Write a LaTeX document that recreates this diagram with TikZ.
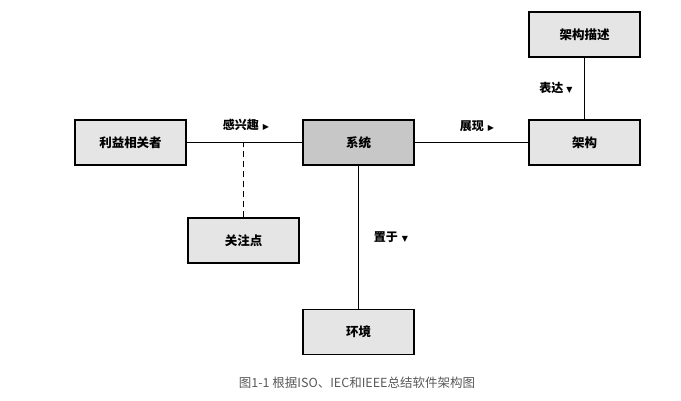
\documentclass[tikz,border=0pt]{standalone}
\usepackage{fontspec}
\setmainfont{Noto Sans CJK SC}
\newfontfamily\symfont{DejaVu Sans}
\usetikzlibrary{positioning}

\begin{document}
\begin{tikzpicture}[x=1pt, y=-1pt,
    box/.style={draw, line width=1.3pt, fill=black!10, minimum width=111pt,
      minimum height=45pt, inner sep=0pt, font=\fontsize{12.5}{14}\selectfont\bfseries},
    link/.style={line width=1.3pt},
    lbl/.style={inner sep=1pt, font=\fontsize{12}{14}\selectfont\bfseries}]
  \useasboundingbox[fill=white] (0,0) rectangle (681,400);

  \node[box] (stake) at (130.5,142.5) {利益相关者};
  \node[box, fill=black!22] (sys) at (358.5,142.5) {系统};
  \node[box] (concern) at (243.5,240.5) {关注点};
  \node[box] (env) at (358.5,332) {环境};
  \node[box] (arch) at (584.5,142.5) {架构};
  \node[box] (desc) at (584.5,34.5) {架构描述};

  \draw[link] (stake) -- (sys);
  \draw[link] (sys) -- (arch);
  \draw[link] (sys) -- (env);
  \draw[link] (desc) -- (arch);
  \draw[link, dash pattern=on 6pt off 4pt] (concern.north) -- (concern.north |- stake.east);

  \node[lbl] (interest) at (246,125) {感兴趣\hspace{4pt}{\symfont\fontsize{8}{10}\selectfont ▶}};
  \node[lbl] (exhibit) at (477,126) {展现\hspace{4pt}{\symfont\fontsize{8}{10}\selectfont ▶}};
  \node[lbl] (express) at (556,88) {表达\hspace{3pt}{\symfont\fontsize{8}{10}\selectfont ▼}};
  \node[lbl] (situate) at (391,237) {置于\hspace{4pt}{\symfont\fontsize{8}{10}\selectfont ▼}};

  % caption
  \node[text=black!65, font=\fontsize{12.5}{14}\selectfont] (caption) at (357,383)
    {图1-1 根据ISO、IEC和IEEE总结软件架构图};
\end{tikzpicture}
\end{document}
